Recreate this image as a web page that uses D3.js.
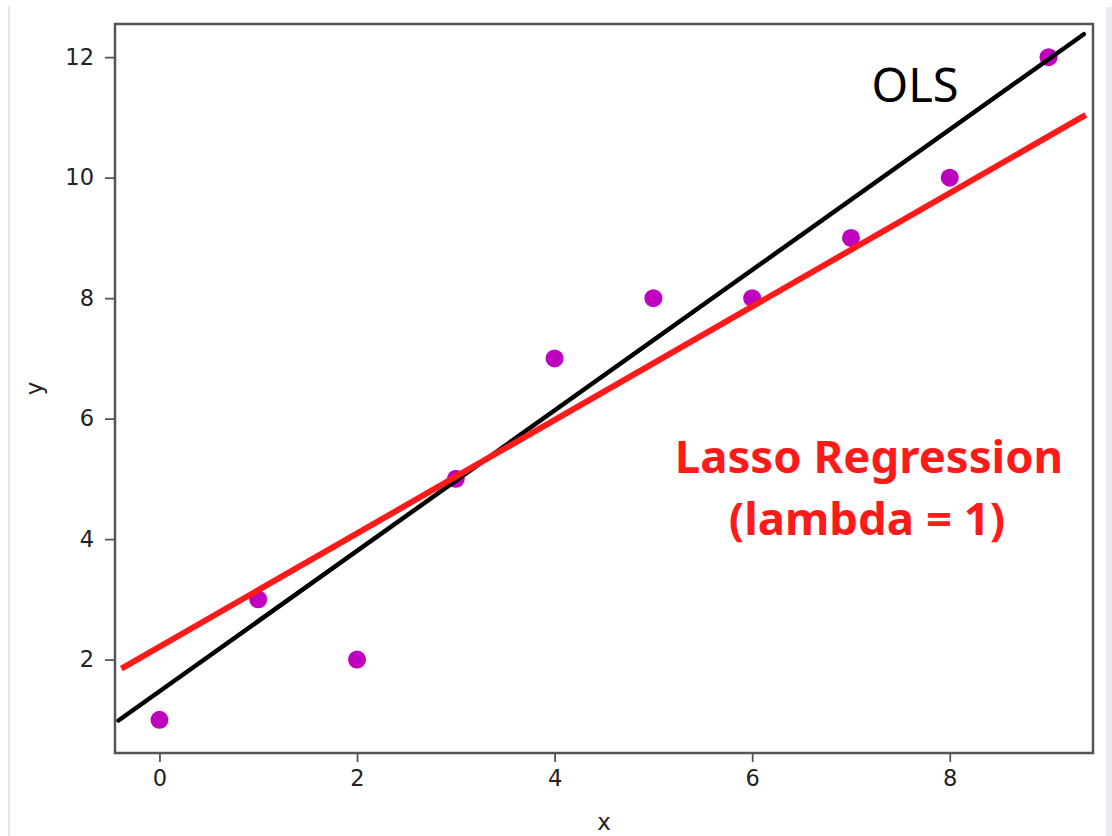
<!DOCTYPE html>
<html>
<head>
<meta charset="utf-8">
<script src="https://cdn.jsdelivr.net/npm/d3@7"></script>
<style>
  html, body { margin: 0; padding: 0; background: #fff; }
  svg { display: block; }
  .tick text { font-family: "DejaVu Sans", sans-serif; font-size: 22.5px; fill: #222; }
  .tick line { stroke: #555; stroke-width: 1.8; }
</style>
</head>
<body>
<div id="chart"></div>
<script>
// data points
const xs = [0, 1, 2, 3, 4, 5, 6, 7, 8, 9];
const ys = [1, 3, 2, 5, 7, 8, 8, 9, 10, 12];

// fitted lines, endpoints in data space
const olsLine = [[-0.415, 0.99], [9.357, 12.38]];
const lassoLine = [[-0.385, 1.85], [9.377, 11.04]];

const xTicks = [0, 2, 4, 6, 8];
const yTicks = [2, 4, 6, 8, 10, 12];

const width = 1112;
const height = 836;
const margin = { top: 24, right: 19, bottom: 83, left: 115 };

const svg = d3.select('#chart').append('svg')
  .attr('width', width)
  .attr('height', height);

// pale side rules from the screenshot
svg.append('rect').attr('x', 8).attr('y', 6).attr('width', 2).attr('height', height - 6).attr('fill', '#e4e4ec');
svg.append('rect').attr('x', 1106).attr('y', 7).attr('width', 6).attr('height', height - 7).attr('fill', '#ececf2');

const x = d3.scaleLinear()
  .domain([-0.45, 9.45])
  .range([margin.left, width - margin.right]);

const y = d3.scaleLinear()
  .domain([0.45, 12.55])
  .range([height - margin.bottom, margin.top]);

const $g = svg.append('g');

// axes
const xAxis = $g.append('g')
  .attr('transform', `translate(0, ${height - margin.bottom})`)
  .call(d3.axisBottom(x).tickValues(xTicks).tickSize(9).tickPadding(8).tickFormat(d3.format('d')));
xAxis.select('.domain').remove();

const yAxis = $g.append('g')
  .attr('transform', `translate(${margin.left}, 0)`)
  .call(d3.axisLeft(y).tickValues(yTicks).tickSize(10).tickPadding(11).tickFormat(d3.format('d')));
yAxis.select('.domain').remove();

// points
$g.selectAll('.dot')
  .data(xs.map((d, i) => ({ x: d, y: ys[i] })))
  .enter()
  .append('circle')
  .attr('class', 'dot')
  .attr('cx', d => x(d.x))
  .attr('cy', d => y(d.y))
  .attr('r', 9)
  .attr('fill', '#bf00bf');

// lines
const line = d3.line().x(d => x(d[0])).y(d => y(d[1]));

$g.append('path')
  .attr('d', line(olsLine))
  .attr('fill', 'none')
  .attr('stroke', '#000')
  .attr('stroke-width', 4.5)
  .attr('stroke-linecap', 'round');

$g.append('path')
  .attr('d', line(lassoLine))
  .attr('fill', 'none')
  .attr('stroke', '#ff1a1a')
  .attr('stroke-width', 6);

// frame
$g.append('rect')
  .attr('x', margin.left)
  .attr('y', margin.top)
  .attr('width', width - margin.left - margin.right)
  .attr('height', height - margin.top - margin.bottom)
  .attr('fill', 'none')
  .attr('stroke', '#555')
  .attr('stroke-width', 2.5);

// axis titles
svg.append('text')
  .attr('x', x(4.5))
  .attr('y', 830)
  .attr('text-anchor', 'middle')
  .style('font-family', '"DejaVu Sans", sans-serif')
  .style('font-size', '23px')
  .style('fill', '#222')
  .text('x');

svg.append('text')
  .attr('transform', `translate(42, ${y(6.5)}) rotate(-90)`)
  .attr('text-anchor', 'middle')
  .style('font-family', '"DejaVu Sans", sans-serif')
  .style('font-size', '23px')
  .style('fill', '#222')
  .text('y');

// annotations
svg.append('text')
  .attr('x', 915)
  .attr('y', 102)
  .attr('text-anchor', 'middle')
  .style('font-family', '"Noto Sans", sans-serif')
  .style('font-size', '47px')
  .style('fill', '#000')
  .text('OLS');

const lasso = svg.append('text')
  .attr('text-anchor', 'middle')
  .style('font-family', '"Noto Sans", sans-serif')
  .style('font-weight', 'bold')
  .style('font-size', '45.5px')
  .style('fill', '#ff1a1a');

lasso.append('tspan').attr('x', 869).attr('y', 473).text('Lasso Regression');
lasso.append('tspan').attr('x', 867).attr('y', 535).text('(lambda = 1)');
</script>
</body>
</html>
